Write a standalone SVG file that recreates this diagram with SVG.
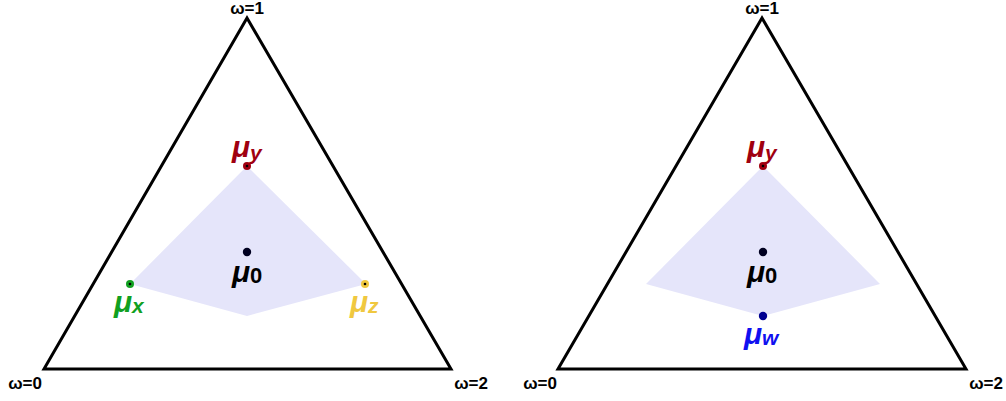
<svg xmlns="http://www.w3.org/2000/svg" width="1006" height="401" viewBox="0 0 1006 401">
<style>
.tri{fill:none;stroke:#000;stroke-width:3;stroke-linejoin:miter}
.reg{fill:#e5e5fa;stroke:none}
.w{font-family:"Liberation Sans",Arial,sans-serif;font-weight:bold;font-size:17px;fill:#000;text-anchor:middle}
.mu{font-family:"Liberation Sans",Arial,sans-serif;font-weight:bold;font-style:italic;font-size:30px}
.sub{font-size:21px}
.sub0{font-size:22px;font-style:normal}
.ctr{fill:#000}
</style>
<g id="left-simplex">
<polygon class="reg" points="247,166 130,284 247,316 366,284"/>
<polygon class="tri" points="247,18 44,369 451,369"/>
<text class="w" x="247" y="14">ω=1</text>
<text class="w" x="25" y="389">ω=0</text>
<text class="w" x="471" y="389">ω=2</text>
</g>
<g id="left-mu-y">
<circle cx="247" cy="166" r="4" fill="#a00010"/><circle cx="247" cy="166" r="1.3" class="ctr"/>
<text class="mu" x="232" y="157" fill="#a00010">μ<tspan class="sub" dy="3">y</tspan></text>
</g>
<g id="left-mu-0">
<circle cx="247" cy="252" r="4.2" fill="#000020"/>
<text class="mu" x="232" y="282" fill="#000">μ<tspan class="sub0" dy="1">0</tspan></text>
</g>
<g id="left-mu-x">
<circle cx="130" cy="284" r="4" fill="#10a020"/><circle cx="130" cy="284" r="1.3" class="ctr"/>
<text class="mu" x="114" y="312" fill="#10a020">μ<tspan class="sub" dy="1">x</tspan></text>
</g>
<g id="left-mu-z">
<circle cx="365" cy="284" r="4" fill="#f0c840"/><circle cx="365" cy="284" r="1.3" class="ctr"/>
<text class="mu" x="350" y="312" fill="#f0c840">μ<tspan class="sub" dy="1">z</tspan></text>
</g>
<g id="right-simplex">
<polygon class="reg" points="763,166 646,284 763,316 880,284"/>
<polygon class="tri" points="762,18 558,369 966,369"/>
<text class="w" x="762" y="14">ω=1</text>
<text class="w" x="540" y="389">ω=0</text>
<text class="w" x="986" y="389">ω=2</text>
</g>
<g id="right-mu-y">
<circle cx="763" cy="166" r="4" fill="#a00010"/><circle cx="763" cy="166" r="1.3" class="ctr"/>
<text class="mu" x="747" y="157" fill="#a00010">μ<tspan class="sub" dy="3">y</tspan></text>
</g>
<g id="right-mu-0">
<circle cx="763" cy="252" r="4.2" fill="#000020"/>
<text class="mu" x="747" y="282" fill="#000">μ<tspan class="sub0" dy="1">0</tspan></text>
</g>
<g id="right-mu-w">
<circle cx="763" cy="316" r="4.2" fill="#000090"/>
<text class="mu" x="744" y="344" fill="#1010f0">μ<tspan class="sub" dy="1">w</tspan></text>
</g>
<g id="connectors"></g>
</svg>
